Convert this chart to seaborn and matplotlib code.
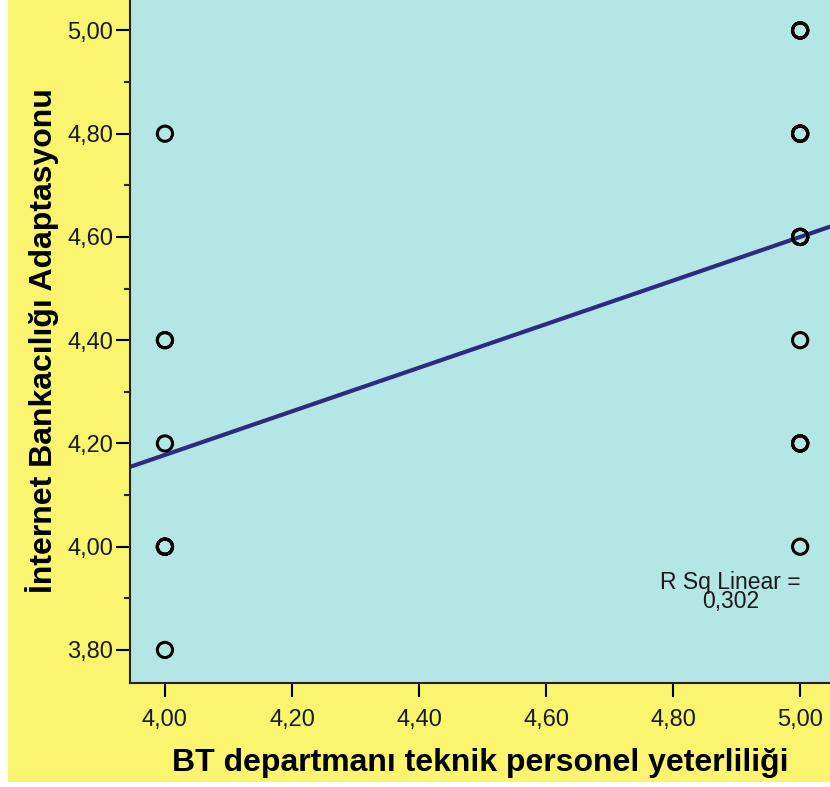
import numpy as np
import pandas as pd
import matplotlib
matplotlib.use("Agg")
import matplotlib.pyplot as plt
from matplotlib.patches import Rectangle
from matplotlib.ticker import FixedLocator, MultipleLocator, FuncFormatter
import seaborn as sns

# Responses: IT staff competence score and the matching adoption score (repeated answers listed once each)
bt_yeterlilik = [4.0, 4.0, 4.0, 4.0, 4.0, 4.0, 4.0, 4.0, 4.0,
                 5.0, 5.0, 5.0, 5.0, 5.0, 5.0, 5.0, 5.0, 5.0,
                 5.0, 5.0, 5.0, 5.0, 5.0, 5.0, 5.0, 5.0, 5.0]
adaptasyon = [4.8, 4.4, 4.4, 4.2, 4.0, 4.0, 4.0, 4.0, 3.8,
              5.0, 5.0, 5.0, 5.0, 4.8, 4.8, 4.8, 4.8, 4.6,
              4.6, 4.6, 4.6, 4.4, 4.2, 4.2, 4.2, 4.2, 4.0]

x_ticks = [4.0, 4.2, 4.4, 4.6, 4.8, 5.0]
y_ticks = [3.8, 4.0, 4.2, 4.4, 4.6, 4.8, 5.0]
r_sq_text = "R Sq Linear =\n0,302"

df = pd.DataFrame({"x": bt_yeterlilik, "y": adaptasyon})

sns.set_theme(style="ticks")
plt.rcParams["font.family"] = ["Liberation Sans", "DejaVu Sans"]

fig = plt.figure(figsize=(8.3, 7.87), dpi=100)
fig.patch.set_facecolor("white")
fig.patches.append(Rectangle((8 / 830, 5 / 787), 1, 1, transform=fig.transFigure,
                             facecolor="#FAF46E", edgecolor="none", zorder=-10))

ax = fig.add_axes([130 / 830, 104 / 787, 1 - 130 / 830, 1 - 104 / 787 + 0.002])
ax.set_zorder(1)
ax.set_facecolor("#B4E6E6")
ax.set_xlim(3.945, 5.047)
ax.set_ylim(3.736, 5.062)

sns.regplot(data=df, x="x", y="y", ax=ax, scatter=False, ci=None, truncate=False,
            line_kws=dict(color="#2B2B80", lw=3.0, zorder=2))
sns.scatterplot(data=df, x="x", y="y", ax=ax, marker="o", s=120,
                facecolors="none", edgecolor="black", linewidth=2.2, zorder=3)

ax.text(4.89, 3.912, r_sq_text, ha="center", va="center", fontsize=16.5,
        linespacing=0.8, color="#1a1a1a")

comma = FuncFormatter(lambda v, p: f"{v:.2f}".replace(".", ","))
ax.xaxis.set_major_locator(FixedLocator(x_ticks))
ax.yaxis.set_major_locator(FixedLocator(y_ticks))
ax.yaxis.set_minor_locator(MultipleLocator(0.1))
ax.xaxis.set_major_formatter(comma)
ax.yaxis.set_major_formatter(comma)
ax.tick_params(axis="both", which="major", direction="out", length=10, width=1.5,
               labelsize=17, colors="black", labelcolor="#1a1a1a", pad=2)
ax.tick_params(axis="x", which="major", pad=9)
ax.tick_params(axis="y", which="minor", direction="out", length=4, width=1.5)
ax.tick_params(axis="x", which="minor", length=0)

for side in ["left", "bottom"]:
    ax.spines[side].set_color("#222222")
    ax.spines[side].set_linewidth(1.5)
ax.spines["top"].set_color("#8aa0a8")
ax.spines["right"].set_visible(False)

ax.set_xlabel("BT departmanı teknik personel yeterliliği", fontsize=23,
              fontweight="bold", labelpad=12, color="black")
ax.set_ylabel("İnternet Bankacılığı Adaptasyonu", fontsize=23,
              fontweight="bold", labelpad=6, color="black")

fig.savefig("out.png", dpi=100, facecolor=fig.get_facecolor())
